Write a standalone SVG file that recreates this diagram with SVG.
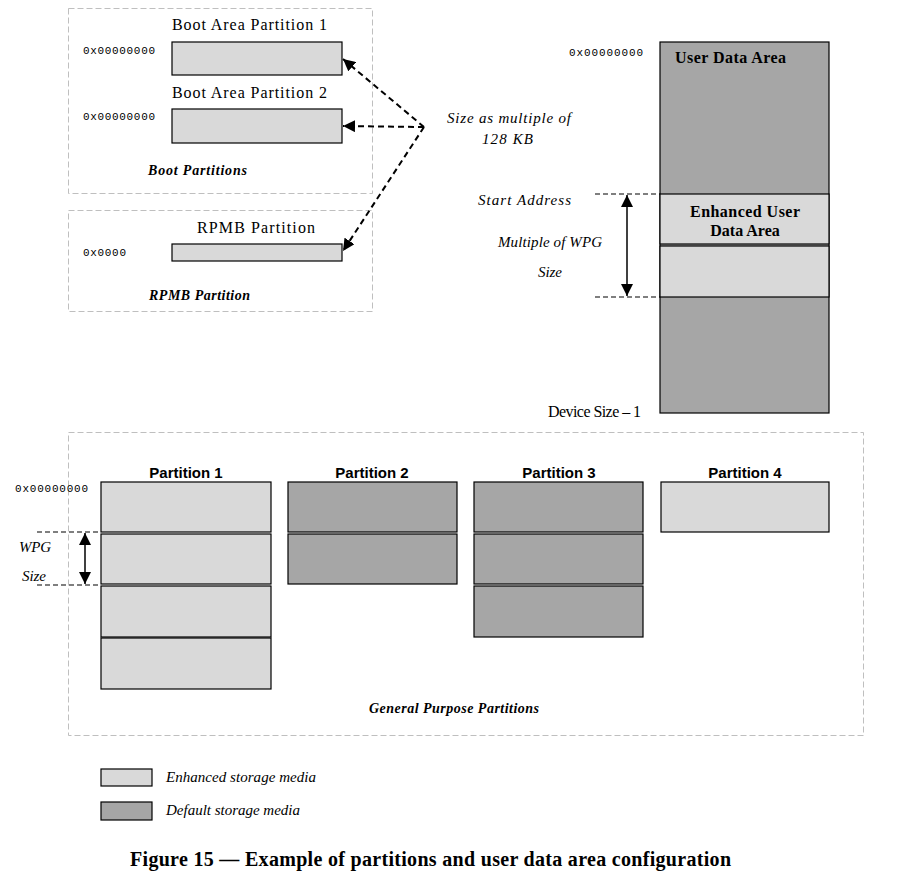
<svg xmlns="http://www.w3.org/2000/svg" width="904" height="873" viewBox="0 0 904 873">
<style>
.grp{fill:none;stroke:#bfbfbf;stroke-width:1;stroke-dasharray:6,3}
.lt{fill:#d9d9d9;stroke:#000;stroke-width:1.2}
.dk{fill:#a6a6a6;stroke:#000;stroke-width:1.2}
.hdr{font-family:"Liberation Serif",serif;font-size:16px;fill:#000}
.bhdr{font-family:"Liberation Serif",serif;font-size:16px;font-weight:bold;fill:#000}
.addr{font-family:"Liberation Mono",monospace;font-size:11px;fill:#000}
.it{font-family:"Liberation Serif",serif;font-style:italic;font-size:15px;fill:#000}
.bit{font-family:"Liberation Serif",serif;font-style:italic;font-weight:bold;font-size:14px;fill:#000}
.ph{font-family:"Liberation Sans",sans-serif;font-weight:bold;font-size:15px;fill:#000}
.dcon{fill:none;stroke:#000;stroke-width:2;stroke-dasharray:6,4}
.dl{fill:none;stroke:#000;stroke-width:1.2;stroke-dasharray:5,3}
.sz{fill:none;stroke:#000;stroke-width:1.5}
</style>
<defs>
<marker id="ah" viewBox="0 0 10 10" refX="10" refY="5" markerWidth="12" markerHeight="12" markerUnits="userSpaceOnUse" orient="auto"><path d="M0,0 L10,5 L0,10 z" fill="#000"/></marker>
<marker id="as" viewBox="0 0 10 10" refX="10" refY="5" markerWidth="12" markerHeight="12" markerUnits="userSpaceOnUse" orient="auto-start-reverse"><path d="M0,0 L10,5 L0,10 z" fill="#000"/></marker>
</defs>
<rect width="904" height="873" fill="#fff"/>

<g id="boot-partitions">
<rect class="grp" x="68.5" y="8.5" width="304" height="185"/>
<text class="hdr" x="172" y="30" font-size="17" textLength="155">Boot Area Partition 1</text>
<text class="addr" x="83" y="54" textLength="72">0x00000000</text>
<rect class="lt" x="172" y="42" width="170" height="33"/>
<text class="hdr" x="172" y="98" font-size="17" textLength="155">Boot Area Partition 2</text>
<text class="addr" x="83" y="120" textLength="72">0x00000000</text>
<rect class="lt" x="172" y="109" width="170" height="34"/>
<text class="bit" x="148" y="175" textLength="99">Boot  Partitions</text>
</g>

<g id="rpmb-partition">
<rect class="grp" x="68.5" y="210.5" width="304" height="101"/>
<text class="hdr" x="197" y="233" font-size="18" textLength="118">RPMB Partition</text>
<text class="addr" x="83" y="256" textLength="43">0x0000</text>
<rect class="lt" x="172" y="244" width="170" height="17"/>
<text class="bit" x="149" y="300" textLength="101">RPMB Partition</text>
</g>

<g id="size-label">
<text class="it" x="447" y="123" font-size="17" textLength="124">Size as multiple of</text>
<text class="it" x="482" y="144" font-size="17" textLength="51">128 KB</text>
</g>

<g id="user-data-area">
<text class="addr" x="569" y="56" textLength="74">0x00000000</text>
<rect class="dk" x="660" y="42" width="169" height="371"/>
<text class="bhdr" x="675" y="63" textLength="111">User Data Area</text>
<rect class="lt" x="660" y="194" width="169" height="50"/>
<rect class="lt" x="660" y="246" width="169" height="51"/>
<text class="bhdr" x="690" y="217" textLength="110">Enhanced User</text>
<text class="bhdr" x="745" y="236" text-anchor="middle">Data Area</text>
<text class="it" x="478" y="205" font-size="16" textLength="93">Start Address</text>
<text class="it" x="498" y="247" textLength="104">Multiple of WPG</text>
<text class="it" x="538" y="277" textLength="24">Size</text>
<text class="hdr" x="548" y="417" font-size="14" textLength="93">Device Size – 1</text>
</g>

<g id="general-purpose-partitions">
<rect class="grp" x="68.5" y="432.5" width="795" height="303"/>
<text class="addr" x="15" y="492" textLength="73">0x00000000</text>
<text class="ph" x="186" y="478" text-anchor="middle">Partition 1</text>
<rect class="lt" x="101" y="482" width="170" height="50"/>
<rect class="lt" x="101" y="534" width="170" height="50"/>
<rect class="lt" x="101" y="586" width="170" height="51"/>
<rect class="lt" x="101" y="638" width="170" height="51"/>
<text class="ph" x="372" y="478" text-anchor="middle">Partition 2</text>
<rect class="dk" x="288" y="482" width="169" height="50"/>
<rect class="dk" x="288" y="534" width="169" height="50"/>
<text class="ph" x="559" y="478" text-anchor="middle">Partition 3</text>
<rect class="dk" x="474" y="482" width="169" height="50"/>
<rect class="dk" x="474" y="534" width="169" height="50"/>
<rect class="dk" x="474" y="586" width="169" height="51"/>
<text class="ph" x="745" y="478" text-anchor="middle">Partition 4</text>
<rect class="lt" x="661" y="482" width="168" height="50"/>
<text class="it" x="19" y="552" textLength="32">WPG</text>
<text class="it" x="22" y="581" textLength="24">Size</text>
<text class="bit" x="369" y="713" textLength="170">General Purpose Partitions</text>
</g>

<g id="legend">
<rect class="lt" x="101" y="769" width="51" height="17"/>
<text class="it" x="166" y="782" textLength="150">Enhanced storage media</text>
<rect class="dk" x="101" y="802" width="51" height="18"/>
<text class="it" x="166" y="815" textLength="134">Default storage media</text>
</g>

<g id="connectors">
<line class="dcon" x1="424" y1="127" x2="343" y2="59" marker-end="url(#ah)"/>
<line class="dcon" x1="424" y1="127" x2="343" y2="126" marker-end="url(#ah)"/>
<line class="dcon" x1="424" y1="127" x2="343" y2="251" marker-end="url(#ah)"/>
<line class="dl" x1="595" y1="194" x2="660" y2="194"/>
<line class="dl" x1="595" y1="297" x2="660" y2="297"/>
<line class="sz" x1="627" y1="195" x2="627" y2="296" marker-start="url(#as)" marker-end="url(#as)"/>
<line class="dl" x1="37" y1="532" x2="101" y2="532"/>
<line class="dl" x1="37" y1="585" x2="101" y2="585"/>
<line class="sz" x1="85" y1="533" x2="85" y2="584" marker-start="url(#as)" marker-end="url(#as)"/>
</g>

<text x="130" y="866" font-family="Liberation Serif, serif" font-weight="bold" font-size="20" textLength="601">Figure 15 — Example of partitions and user data area configuration</text>
</svg>
